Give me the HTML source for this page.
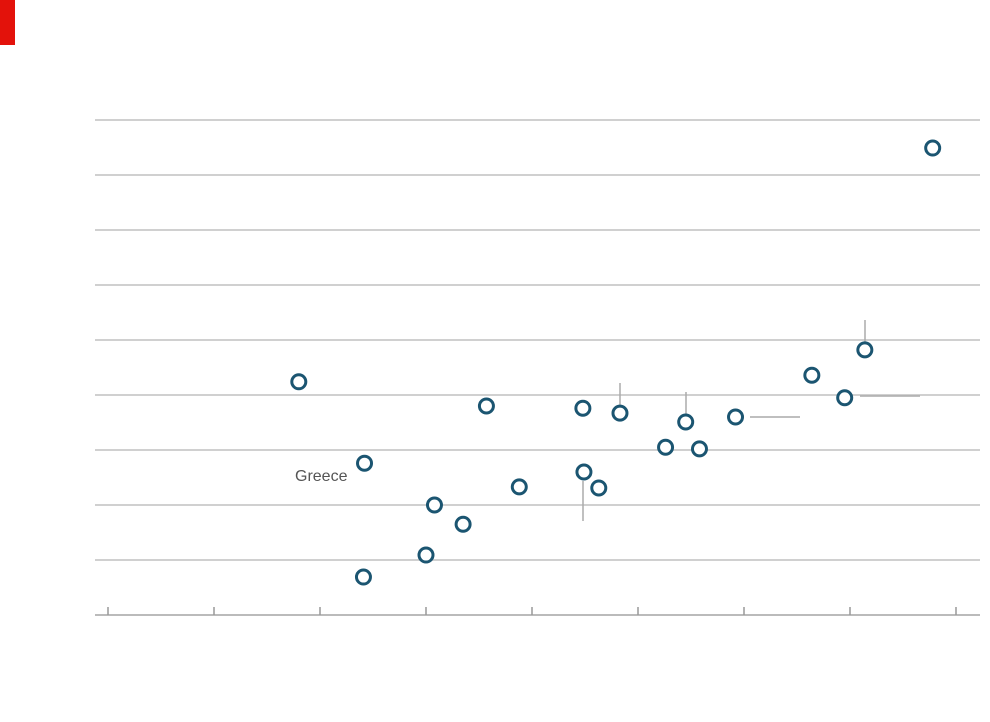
<!DOCTYPE html>
<html><head><meta charset="utf-8"><style>
body{margin:0;background:#fff;width:990px;height:717px;overflow:hidden;font-family:"Liberation Sans",sans-serif}
</style></head><body>
<svg id="chart" width="990" height="717" xmlns="http://www.w3.org/2000/svg">
<rect x="0" y="0" width="15" height="45" fill="#e3120b"/>
<g id="grid"></g><g id="leaders"></g><g id="pts"></g>
<text x="295" y="481" font-size="16" fill="#555">Greece</text>
</svg>
<script>
const xVals=[7.78,7.14,6.64,6.95,5.92,5.45,5.58,5.26,4.83,4.48,3.57,1.80,2.42,3.88,4.49,4.63,3.08,3.35,3.0,2.41];
const yVals=[8.49,4.82,4.36,3.95,3.6,3.51,3.02,3.05,3.67,3.76,3.8,4.24,2.76,2.33,2.6,2.31,2.0,1.65,1.09,0.69];
const xTicks=[0,1,2,3,4,5,6,7,8];
const yTicks=[1,2,3,4,5,6,7,8,9];
const NS="http://www.w3.org/2000/svg";
const sx=v=>108+v*106, sy=v=>615-v*55;
function mk(t,a,p){const e=document.createElementNS(NS,t);for(const k in a)e.setAttribute(k,a[k]);p.appendChild(e);return e;}
const g=document.getElementById('grid');
yTicks.forEach(t=>{const l=mk('line',{x1:95,x2:980,y1:sy(t),y2:sy(t),stroke:'#d0d0d0','stroke-width':2},g);

});
const ax=mk('line',{x1:95,x2:980,y1:615,y2:615,stroke:'#bbb','stroke-width':2},g);


xTicks.forEach(t=>{const l=mk('line',{x1:sx(t),x2:sx(t),y1:607,y2:615,stroke:'#999','stroke-width':1.5},g);

});
const ld=document.getElementById('leaders');
[[865,320,865,343],[620,383,620,406],[686,392,686,415],[583,481,583,521],[750,417,800,417],[860,396,920,396]].forEach(c=>{
const l=mk('line',{x1:c[0],y1:c[1],x2:c[2],y2:c[3],stroke:'#aaa','stroke-width':1.5},ld);

});
const p=document.getElementById('pts');
xVals.forEach((v,i)=>{const c=mk('circle',{cx:sx(v),cy:sy(yVals[i]),r:7,fill:'#fff',stroke:'#1b5571','stroke-width':3},p);

});
</script>
</body></html>
